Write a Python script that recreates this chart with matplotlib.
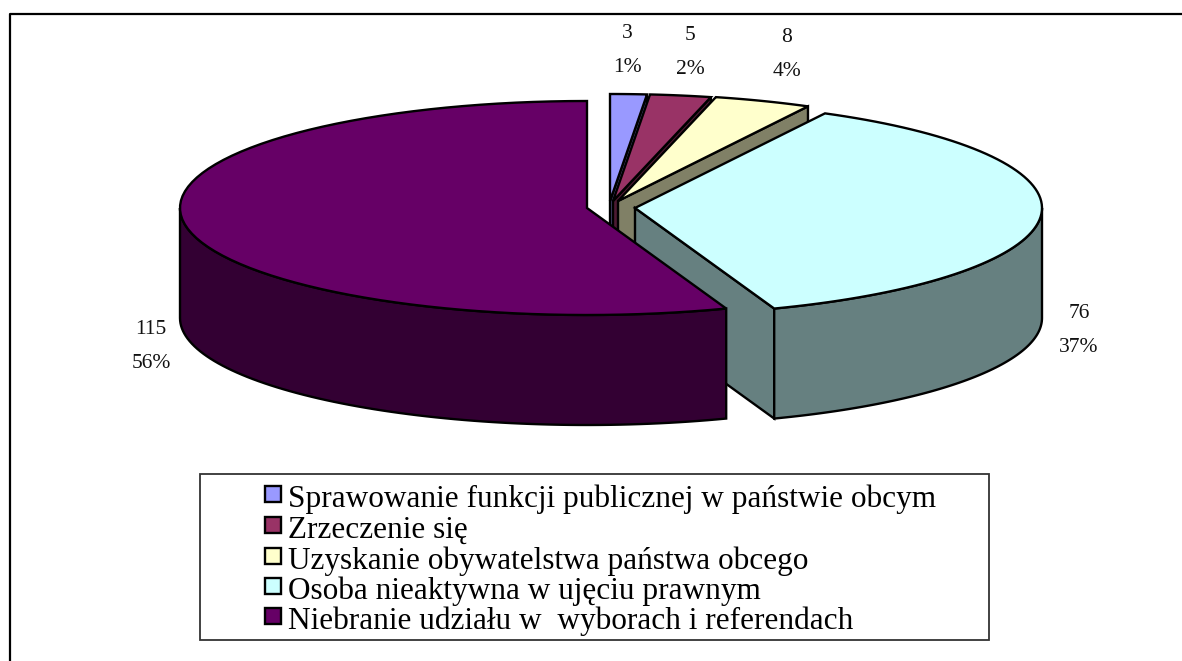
import numpy as np
import matplotlib.pyplot as plt
from matplotlib.patches import Polygon, Rectangle

labels = ['Sprawowanie funkcji publicznej w państwie obcym', 'Zrzeczenie się',
          'Uzyskanie obywatelstwa państwa obcego', 'Osoba nieaktywna w ujęciu prawnym',
          'Niebranie udziału w  wyborach i referendach']
values = [3, 5, 8, 76, 115]
percents = ['1%', '2%', '4%', '37%', '56%']
top_colors = ['#9999ff', '#993366', '#ffffcc', '#ccffff', '#660066']
side_colors = ['#4d4d80', '#4d1a33', '#808066', '#668080', '#330033']

# slice centres in pixels (exploded pie)
centers = [(610, 201), (613, 201), (618, 201), (635, 208), (587, 208)]
label_pos = [(627, 34, 68), (690, 35, 70), (787, 38, 72), (1079, 314, 347), (151, 329, 364)]
rx, ry, depth = 407, 107, 110

plt.rcParams['font.family'] = ['Liberation Serif', 'DejaVu Serif']
fig = plt.figure(figsize=(11.82, 6.61), dpi=100)
ax = fig.add_axes([0, 0, 1, 1])
ax.set_xlim(0, 1182)
ax.set_ylim(661, 0)
ax.axis('off')

# outer frame, cut off on right and bottom in the source
ax.plot([10, 10, 1182], [661, 13.5, 13.5], color='black', lw=1.6)


def rim(c, a0, a1):
    th = np.linspace(a0, a1, 80)
    return np.column_stack([c[0] + rx * np.sin(th), c[1] - ry * np.cos(th)])


total = sum(values)
edges = np.cumsum([0] + values) / total * 2 * np.pi

# small slices at the back first, purple one last because it overlaps the rest
for i in range(len(values)):
    c = centers[i]
    a0, a1 = edges[i], edges[i + 1]
    # cut faces, only the ones turned to the viewer
    faces = []
    if a1 < np.pi:
        faces.append(a1)
    if a0 > np.pi:
        faces.append(a0)
    for a in faces:
        p = rim(c, a, a)[0]
        wall = [c, p, (p[0], p[1] + depth), (c[0], c[1] + depth)]
        ax.add_patch(Polygon(wall, closed=True, fc=side_colors[i], ec='black', lw=1.7))
    # outer wall, front part only
    lo, hi = max(a0, np.pi / 2), min(a1, 3 * np.pi / 2)
    if hi > lo:
        r = rim(c, lo, hi)
        wall = np.vstack([r, r[::-1] + [0, depth]])
        ax.add_patch(Polygon(wall, closed=True, fc=side_colors[i], ec='black', lw=1.7))
    top = np.vstack([[c], rim(c, a0, a1)])
    ax.add_patch(Polygon(top, closed=True, fc=top_colors[i], ec='black', lw=1.7))

for v, pct, pos in zip(values, percents, label_pos):
    ax.text(pos[0], pos[1], str(v), ha='center', va='center', fontsize=15.5, color='#111111')
    ax.text(pos[0], pos[2], pct, ha='center', va='center', fontsize=15.5, color='#111111')

# legend box
ax.add_patch(Rectangle((200, 473.5), 789, 166, fc='white', ec='#333333', lw=1.3))
legend_y = [498, 529, 560, 590, 620]
for lab, col, y in zip(labels, top_colors, legend_y):
    ax.add_patch(Rectangle((265, y - 12), 16, 16, fc=col, ec='black', lw=1.7))
    ax.text(288, y + 1.5, lab, ha='left', va='center', fontsize=22.5, color='black')

fig.savefig('out.png', dpi=100)
